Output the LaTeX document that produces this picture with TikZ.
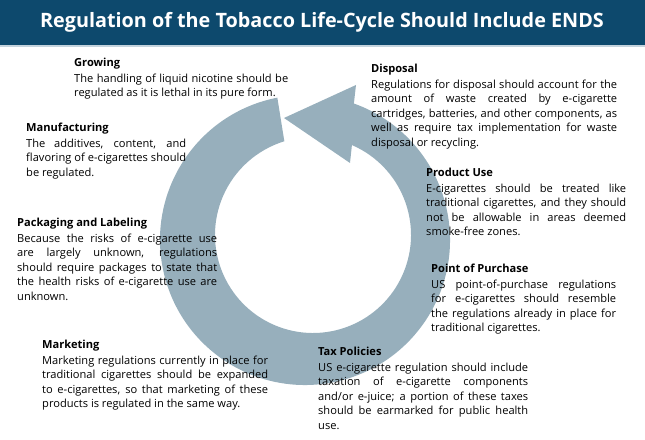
\documentclass[tikz,border=0pt]{standalone}
\usepackage{fontspec}
\setmainfont{Open Sans}
\definecolor{barblue}{RGB}{13,73,109}
\definecolor{barline}{RGB}{196,211,221}
\definecolor{ringgray}{RGB}{151,175,188}
\begin{document}
\begin{tikzpicture}[x=1pt, y=1pt, stage/.style={anchor=north west, inner sep=0pt, align=justify, font=\fontsize{11.1}{14.5}\selectfont}]
\useasboundingbox (0,0) rectangle (645,439);
\fill[barblue] (0,394) rectangle (645,439);
\fill[barline] (0,392) rectangle (645,394);
\node[text=white, font=\bfseries\fontsize{19.8}{22}\selectfont] (title) at (322,417) {Regulation of the Tobacco Life-Cycle Should Include ENDS};
\coordinate (oc) at (305,199);
\coordinate (ic) at (313,204);
\fill[ringgray] ([shift={(101:145)}]oc) arc[start angle=101, end angle=430.3, radius=145] -- (356,354) -- (284,321) -- (350,276) -- ([shift={(426.6:98)}]ic) arc[start angle=426.6, end angle=107, radius=98] -- cycle;
\node[stage, text width=214] (growing) at (74,381.5) {\textbf{Growing}\par\vspace{1.5pt}The handling of liquid nicotine should be\linebreak regulated as it is lethal in its pure form.};
\node[stage, text width=160] (manufacturing) at (26,316.5) {\textbf{Manufacturing}\par\vspace{1.5pt}The additives, content, and\linebreak flavoring of e-cigarettes should\linebreak be regulated.};
\node[stage, text width=200] (packaging) at (17,221.5) {\textbf{Packaging and Labeling}\par\vspace{1.5pt}Because the risks of e-cigarette use\linebreak are largely unknown, regulations\linebreak should require packages to state that\linebreak the health risks of e-cigarette use are\linebreak unknown.};
\node[stage, text width=226] (marketing) at (42,99.5) {\textbf{Marketing}\par\vspace{1.5pt}Marketing regulations currently in place for\linebreak traditional cigarettes should be expanded\linebreak to e-cigarettes, so that marketing of these\linebreak products is regulated in the same way.};
\node[stage, text width=246] (disposal) at (371,375.5) {\textbf{Disposal}\par\vspace{1.5pt}Regulations for disposal should account for the\linebreak amount of waste created by e-cigarette\linebreak cartridges, batteries, and other components, as\linebreak well as require tax implementation for waste\linebreak disposal or recycling.};
\node[stage, text width=200] (productuse) at (426,271.5) {\textbf{Product Use}\par\vspace{1.5pt}E-cigarettes should be treated like\linebreak traditional cigarettes, and they should\linebreak not be allowable in areas deemed\linebreak smoke-free zones.};
\node[stage, text width=185] (purchase) at (431,175.5) {\textbf{Point of Purchase}\par\vspace{1.5pt}US point-of-purchase regulations\linebreak for e-cigarettes should resemble\linebreak the regulations already in place for\linebreak traditional cigarettes.};
\node[stage, text width=210] (tax) at (318,92.5) {\textbf{Tax Policies}\par\vspace{1.5pt}US e-cigarette regulation should include\linebreak taxation of e-cigarette components\linebreak and/or e-juice; a portion of these taxes\linebreak should be earmarked for public health\linebreak use.};
\end{tikzpicture}
\end{document}
